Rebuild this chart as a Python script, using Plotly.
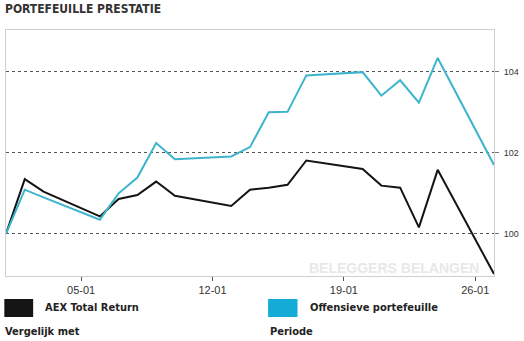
import plotly.graph_objects as go

# ---- data ----
dates = ["2014-01-01", "2014-01-02", "2014-01-03", "2014-01-06", "2014-01-07",
         "2014-01-08", "2014-01-09", "2014-01-10", "2014-01-13", "2014-01-14",
         "2014-01-15", "2014-01-16", "2014-01-17", "2014-01-20", "2014-01-21",
         "2014-01-22", "2014-01-23", "2014-01-24", "2014-01-27"]
aex = [100, 101.35, 101.04, 100.43, 100.86, 100.96, 101.29, 100.94, 100.69, 101.09,
       101.14, 101.21, 101.81, 101.60, 101.19, 101.14, 100.16, 101.58, 99.01]
offensief = [100, 101.09, 100.90, 100.35, 101.00, 101.39, 102.24, 101.84, 101.91, 102.14,
             103.00, 103.01, 103.91, 103.99, 103.41, 103.79, 103.24, 104.34, 101.70]
x_tickvals = ["2014-01-05", "2014-01-12", "2014-01-19", "2014-01-26"]
x_ticktext = ["05-01", "12-01", "19-01", "26-01"]
y_tickvals = [100, 102, 104]
y_ticktext = ["100", "102", "104"]
series_names = ["AEX Total Return", "Offensieve portefeuille"]

W, H = 524, 341
L, R, T, B = 5, 502.7, 30, 276

def px(x):
    return (x - L) / (R - L)

def py(y):
    return (B - y) / (B - T)

NARROW = "Liberation Sans Narrow, DejaVu Sans Condensed, Arial Narrow, sans-serif"
BLACK = "#141414"
CYAN = "#3cb4cc"
CYAN_SW = "#14acd6"

fig = go.Figure()
fig.add_trace(go.Scatter(x=dates, y=aex, mode="lines", name=series_names[0],
                         line=dict(color=BLACK, width=2), hoverinfo="skip"))
fig.add_trace(go.Scatter(x=dates, y=offensief, mode="lines", name=series_names[1],
                         line=dict(color=CYAN, width=2), hoverinfo="skip"))

fig.update_layout(
    width=W, height=H, autosize=False,
    margin=dict(l=L, r=W - R, t=T, b=H - B, pad=0),
    paper_bgcolor="white", plot_bgcolor="white",
    showlegend=False,
    xaxis=dict(type="date", range=["2014-01-01", "2014-01-27"],
               tickvals=x_tickvals, ticktext=x_ticktext,
               ticks="outside", ticklen=4, tickcolor="#555",
               tickfont=dict(family="Liberation Sans, Arial, sans-serif", size=11, color="#333"),
               showgrid=False, zeroline=False,
               showline=True, mirror=True, linecolor="#cfcfcf", linewidth=1),
    yaxis=dict(range=[98.96, 105.03], side="right",
               tickvals=y_tickvals, ticktext=y_ticktext,
               ticks="outside", ticklen=4, tickcolor="#777",
               ticklabelstandoff=3,
               tickfont=dict(family="Liberation Sans, Arial, sans-serif", size=9, color="#333"),
               showgrid=True, gridcolor="#555", griddash="dot", gridwidth=1,
               zeroline=False,
               showline=True, mirror=True, linecolor="#cfcfcf", linewidth=1),
)

# title
fig.add_annotation(text="<b>PORTEFEUILLE PRESTATIE</b>", xref="paper", yref="paper",
                   x=px(2), y=py(9), xanchor="left", yanchor="middle", showarrow=False,
                   font=dict(family=NARROW, size=12, color="#333"))
# watermark
fig.add_annotation(text="<b>BELEGGERS BELANGEN</b>", xref="paper", yref="paper",
                   x=px(489), y=py(268), xanchor="right", yanchor="middle", showarrow=False,
                   font=dict(family="Liberation Sans, Arial, sans-serif", size=14, color="#e8e8e8"))

# legend swatches
fig.add_shape(type="rect", xref="paper", yref="paper",
              x0=px(3.3), x1=px(32.7), y0=py(317), y1=py(299),
              fillcolor=BLACK, line=dict(width=0))
fig.add_shape(type="rect", xref="paper", yref="paper",
              x0=px(272.3), x1=px(302.3), y0=py(317), y1=py(299),
              fillcolor=CYAN_SW, line=dict(width=0))
fig.add_annotation(text="<b>" + series_names[0] + "</b>", xref="paper", yref="paper",
                   x=px(43), y=py(307), xanchor="left", yanchor="middle", showarrow=False,
                   font=dict(family=NARROW, size=11, color="#222"))
fig.add_annotation(text="<b>" + series_names[1] + "</b>", xref="paper", yref="paper",
                   x=px(313), y=py(307), xanchor="left", yanchor="middle", showarrow=False,
                   font=dict(family=NARROW, size=11, color="#222"))
fig.add_annotation(text="<b>Vergelijk met</b>", xref="paper", yref="paper",
                   x=px(2), y=py(331), xanchor="left", yanchor="middle", showarrow=False,
                   font=dict(family=NARROW, size=11, color="#222"))
fig.add_annotation(text="<b>Periode</b>", xref="paper", yref="paper",
                   x=px(272), y=py(331), xanchor="left", yanchor="middle", showarrow=False,
                   font=dict(family=NARROW, size=11, color="#222"))

fig.write_html("out.html")
